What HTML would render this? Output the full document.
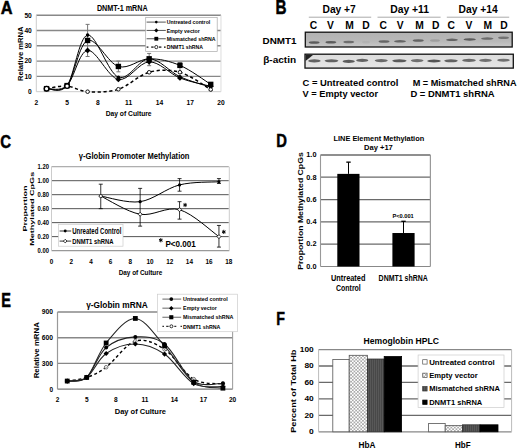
<!DOCTYPE html>
<html><head><meta charset="utf-8"><style>
html,body{margin:0;padding:0;background:#fff;}
svg{display:block;font-family:"Liberation Sans", sans-serif;}
</style></head><body>
<svg width="520" height="448" viewBox="0 0 520 448" font-family='"Liberation Sans", sans-serif'>
<rect x="0" y="0" width="520" height="448" fill="#fff"/>
<text x="0.80" y="13.50" font-size="18.12" font-weight="bold" fill="#000" textLength="11.80" lengthAdjust="spacingAndGlyphs" stroke="#000" stroke-width="0.5">A</text>
<text x="96.90" y="11.20" font-size="8.41" font-weight="bold" fill="#000" textLength="50.80" lengthAdjust="spacingAndGlyphs" >DNMT-1 mRNA</text>
<line x1="36.30" y1="76.40" x2="220.98" y2="76.40" stroke="#888" stroke-width="1.4" />
<line x1="36.30" y1="61.10" x2="220.98" y2="61.10" stroke="#888" stroke-width="1.4" />
<line x1="36.30" y1="45.80" x2="220.98" y2="45.80" stroke="#888" stroke-width="1.4" />
<line x1="36.30" y1="30.50" x2="220.98" y2="30.50" stroke="#888" stroke-width="1.4" />
<line x1="36.30" y1="15.20" x2="220.98" y2="15.20" stroke="#888" stroke-width="1.4" />
<line x1="36.30" y1="91.70" x2="220.98" y2="91.70" stroke="#ccc" stroke-width="1" />
<line x1="36.30" y1="91.70" x2="36.30" y2="15.20" stroke="#ccc" stroke-width="1" />
<line x1="220.98" y1="91.70" x2="220.98" y2="15.20" stroke="#ddd" stroke-width="1" />
<text x="31.80" y="94.00" font-size="6.67" font-weight="bold" fill="#000" text-anchor="end" >0</text>
<text x="31.80" y="78.70" font-size="6.67" font-weight="bold" fill="#000" text-anchor="end" >10</text>
<text x="31.80" y="63.40" font-size="6.67" font-weight="bold" fill="#000" text-anchor="end" >20</text>
<text x="31.80" y="48.10" font-size="6.67" font-weight="bold" fill="#000" text-anchor="end" >30</text>
<text x="31.80" y="32.80" font-size="6.67" font-weight="bold" fill="#000" text-anchor="end" >40</text>
<text x="31.80" y="17.50" font-size="6.67" font-weight="bold" fill="#000" text-anchor="end" >50</text>
<text x="36.30" y="105.40" font-size="6.67" font-weight="bold" fill="#000" text-anchor="middle" >2</text>
<text x="67.08" y="105.40" font-size="6.67" font-weight="bold" fill="#000" text-anchor="middle" >5</text>
<text x="97.86" y="105.40" font-size="6.67" font-weight="bold" fill="#000" text-anchor="middle" >8</text>
<text x="128.64" y="105.40" font-size="6.67" font-weight="bold" fill="#000" text-anchor="middle" >11</text>
<text x="159.42" y="105.40" font-size="6.67" font-weight="bold" fill="#000" text-anchor="middle" >14</text>
<text x="190.20" y="105.40" font-size="6.67" font-weight="bold" fill="#000" text-anchor="middle" >17</text>
<text x="220.98" y="105.40" font-size="6.67" font-weight="bold" fill="#000" text-anchor="middle" >20</text>
<text x="105.70" y="116.00" font-size="7.39" font-weight="bold" fill="#000" textLength="45.90" lengthAdjust="spacingAndGlyphs" >Day of Culture</text>
<text transform="translate(23.00,81.10) rotate(-90)" x="0" y="0" font-size="7.97" font-weight="bold" fill="#000" textLength="54.70" lengthAdjust="spacingAndGlyphs">Relative mRNA</text>
<line x1="87.60" y1="24.38" x2="87.60" y2="56.51" stroke="#777" stroke-width="1.0" />
<line x1="85.60" y1="24.38" x2="89.60" y2="24.38" stroke="#777" stroke-width="1.0" />
<line x1="85.60" y1="56.51" x2="89.60" y2="56.51" stroke="#777" stroke-width="1.0" />
<line x1="118.38" y1="61.10" x2="118.38" y2="71.81" stroke="#777" stroke-width="1.0" />
<line x1="116.38" y1="61.10" x2="120.38" y2="61.10" stroke="#777" stroke-width="1.0" />
<line x1="116.38" y1="71.81" x2="120.38" y2="71.81" stroke="#777" stroke-width="1.0" />
<line x1="149.16" y1="53.45" x2="149.16" y2="65.69" stroke="#777" stroke-width="1.0" />
<line x1="147.16" y1="53.45" x2="151.16" y2="53.45" stroke="#777" stroke-width="1.0" />
<line x1="147.16" y1="65.69" x2="151.16" y2="65.69" stroke="#777" stroke-width="1.0" />
<line x1="179.94" y1="62.63" x2="179.94" y2="73.34" stroke="#777" stroke-width="1.0" />
<line x1="177.94" y1="62.63" x2="181.94" y2="62.63" stroke="#777" stroke-width="1.0" />
<line x1="177.94" y1="73.34" x2="181.94" y2="73.34" stroke="#777" stroke-width="1.0" />
<line x1="210.72" y1="82.52" x2="210.72" y2="90.17" stroke="#777" stroke-width="1.0" />
<line x1="208.72" y1="82.52" x2="212.72" y2="82.52" stroke="#777" stroke-width="1.0" />
<line x1="208.72" y1="90.17" x2="212.72" y2="90.17" stroke="#777" stroke-width="1.0" />
<path d="M46.56,88.64 C49.98,88.21 60.24,85.53 67.08,86.04 C73.92,86.55 79.05,91.16 87.60,91.70 C96.15,92.24 108.12,92.49 118.38,89.25 C128.64,86.01 138.90,75.10 149.16,72.27 C159.42,69.44 169.68,69.39 179.94,72.27 C190.20,75.15 205.59,86.68 210.72,89.56" stroke="#000" stroke-width="1.5" fill="none" stroke-dasharray="3.2,2.6"/>
<path d="M46.56,88.64 C49.98,88.13 60.24,94.50 67.08,85.58 C73.92,76.66 79.05,36.49 87.60,35.09 C96.15,33.69 108.12,73.21 118.38,77.17 C128.64,81.12 138.90,58.88 149.16,58.80 C159.42,58.73 169.68,71.99 179.94,76.71 C190.20,81.42 205.59,85.38 210.72,87.11" stroke="#000" stroke-width="1.0" fill="none" />
<path d="M46.56,88.64 C49.98,88.13 60.24,91.95 67.08,85.58 C73.92,79.20 79.05,51.41 87.60,50.39 C96.15,49.37 108.12,77.55 118.38,79.46 C128.64,81.37 138.90,62.12 149.16,61.87 C159.42,61.61 169.68,73.85 179.94,77.93 C190.20,82.01 205.59,84.94 210.72,86.34" stroke="#000" stroke-width="1.0" fill="none" />
<path d="M46.56,88.64 C49.98,88.13 60.24,93.61 67.08,85.58 C73.92,77.55 79.05,43.63 87.60,40.45 C96.15,37.26 108.12,63.39 118.38,66.45 C128.64,69.52 138.90,58.98 149.16,58.80 C159.42,58.63 169.68,61.13 179.94,65.38 C190.20,69.64 205.59,81.19 210.72,84.36" stroke="#000" stroke-width="1.0" fill="none" />
<circle cx="46.56" cy="88.64" r="1.79" fill="#000"/>
<circle cx="67.08" cy="85.58" r="1.79" fill="#000"/>
<circle cx="87.60" cy="35.09" r="1.79" fill="#000"/>
<circle cx="118.38" cy="77.17" r="1.79" fill="#000"/>
<circle cx="149.16" cy="58.80" r="1.79" fill="#000"/>
<circle cx="179.94" cy="76.71" r="1.79" fill="#000"/>
<circle cx="210.72" cy="87.11" r="1.79" fill="#000"/>
<path d="M46.56,85.73 L49.47,88.64 L46.56,91.55 L43.65,88.64 Z" fill="#000"/>
<path d="M67.08,82.67 L69.99,85.58 L67.08,88.49 L64.17,85.58 Z" fill="#000"/>
<path d="M87.60,47.48 L90.51,50.39 L87.60,53.30 L84.69,50.39 Z" fill="#000"/>
<path d="M118.38,76.55 L121.29,79.46 L118.38,82.37 L115.47,79.46 Z" fill="#000"/>
<path d="M149.16,58.95 L152.07,61.87 L149.16,64.78 L146.25,61.87 Z" fill="#000"/>
<path d="M179.94,75.02 L182.85,77.93 L179.94,80.84 L177.03,77.93 Z" fill="#000"/>
<path d="M210.72,83.43 L213.63,86.34 L210.72,89.26 L207.81,86.34 Z" fill="#000"/>
<rect x="43.87" y="85.95" width="5.38" height="5.38" fill="#000"/>
<rect x="64.39" y="82.89" width="5.38" height="5.38" fill="#000"/>
<rect x="84.91" y="37.76" width="5.38" height="5.38" fill="#000"/>
<rect x="115.69" y="63.77" width="5.38" height="5.38" fill="#000"/>
<rect x="146.47" y="56.12" width="5.38" height="5.38" fill="#000"/>
<rect x="177.25" y="62.70" width="5.38" height="5.38" fill="#000"/>
<rect x="208.03" y="81.67" width="5.38" height="5.38" fill="#000"/>
<circle cx="46.56" cy="88.64" r="2.3" fill="#fff" stroke="#000" stroke-width="1.4"/>
<circle cx="67.08" cy="86.04" r="2.3" fill="#fff" stroke="#000" stroke-width="1.4"/>
<circle cx="87.60" cy="91.70" r="1.8" fill="#fff" stroke="#000" stroke-width="0.9"/>
<circle cx="118.38" cy="89.25" r="1.8" fill="#fff" stroke="#000" stroke-width="0.9"/>
<circle cx="149.16" cy="72.27" r="1.8" fill="#fff" stroke="#000" stroke-width="0.9"/>
<circle cx="179.94" cy="72.27" r="1.8" fill="#fff" stroke="#000" stroke-width="0.9"/>
<circle cx="210.72" cy="89.56" r="1.8" fill="#fff" stroke="#000" stroke-width="0.9"/>
<rect x="145.70" y="17.40" width="71.50" height="34.00" fill="#fff" stroke="#aaa" stroke-width="0.7" />
<line x1="146.60" y1="22.10" x2="165.80" y2="22.10" stroke="#555" stroke-width="1.0" />
<circle cx="156.30" cy="22.10" r="1.28" fill="#000"/>
<text x="166.70" y="24.30" font-size="6.09" font-weight="bold" fill="#000" textLength="43.60" lengthAdjust="spacingAndGlyphs" >Untreated control</text>
<line x1="146.60" y1="30.43" x2="165.80" y2="30.43" stroke="#555" stroke-width="1.0" />
<path d="M156.30,28.35 L158.38,30.43 L156.30,32.51 L154.22,30.43 Z" fill="#000"/>
<text x="166.70" y="32.63" font-size="6.09" font-weight="bold" fill="#000" textLength="33.10" lengthAdjust="spacingAndGlyphs" >Empty vector</text>
<line x1="146.60" y1="38.76" x2="165.80" y2="38.76" stroke="#555" stroke-width="1.0" />
<rect x="154.38" y="36.84" width="3.84" height="3.84" fill="#000"/>
<text x="166.70" y="40.96" font-size="6.09" font-weight="bold" fill="#000" textLength="48.90" lengthAdjust="spacingAndGlyphs" >Mismatched shRNA</text>
<line x1="146.60" y1="47.09" x2="148.40" y2="47.09" stroke="#000" stroke-width="1.2" />
<line x1="151.20" y1="47.09" x2="153.60" y2="47.09" stroke="#000" stroke-width="1.2" />
<line x1="159.00" y1="47.09" x2="161.40" y2="47.09" stroke="#000" stroke-width="1.2" />
<line x1="164.00" y1="47.09" x2="165.60" y2="47.09" stroke="#000" stroke-width="1.2" />
<circle cx="156.3" cy="47.09" r="1.6" fill="#fff" stroke="#000" stroke-width="0.8"/>
<text x="166.70" y="49.29" font-size="6.09" font-weight="bold" fill="#000" textLength="36.30" lengthAdjust="spacingAndGlyphs" >DNMT1 shRNA</text>
<text x="275.50" y="13.60" font-size="19.42" font-weight="bold" fill="#000" textLength="11.00" lengthAdjust="spacingAndGlyphs" stroke="#000" stroke-width="0.5">B</text>
<text x="322.50" y="12.90" font-size="10.00" font-weight="bold" fill="#000" textLength="33.30" lengthAdjust="spacingAndGlyphs" >Day +7</text>
<text x="390.20" y="12.90" font-size="10.00" font-weight="bold" fill="#000" textLength="38.80" lengthAdjust="spacingAndGlyphs" >Day +11</text>
<text x="458.60" y="12.90" font-size="10.00" font-weight="bold" fill="#000" textLength="39.10" lengthAdjust="spacingAndGlyphs" >Day +14</text>
<line x1="308.80" y1="17.20" x2="371.20" y2="17.20" stroke="#aaa" stroke-width="1" />
<line x1="377.50" y1="17.20" x2="440.60" y2="17.20" stroke="#aaa" stroke-width="1" />
<line x1="446.80" y1="17.20" x2="509.20" y2="17.20" stroke="#aaa" stroke-width="1" />
<text x="313.40" y="28.60" font-size="10.29" font-weight="bold" fill="#000" text-anchor="middle" >C</text>
<text x="330.40" y="28.60" font-size="10.29" font-weight="bold" fill="#000" text-anchor="middle" >V</text>
<text x="349.50" y="28.60" font-size="10.29" font-weight="bold" fill="#000" text-anchor="middle" >M</text>
<text x="366.00" y="28.60" font-size="10.29" font-weight="bold" fill="#000" text-anchor="middle" >D</text>
<text x="383.20" y="28.60" font-size="10.29" font-weight="bold" fill="#000" text-anchor="middle" >C</text>
<text x="400.20" y="28.60" font-size="10.29" font-weight="bold" fill="#000" text-anchor="middle" >V</text>
<text x="419.60" y="28.60" font-size="10.29" font-weight="bold" fill="#000" text-anchor="middle" >M</text>
<text x="435.70" y="28.60" font-size="10.29" font-weight="bold" fill="#000" text-anchor="middle" >D</text>
<text x="451.30" y="28.60" font-size="10.29" font-weight="bold" fill="#000" text-anchor="middle" >C</text>
<text x="468.90" y="28.60" font-size="10.29" font-weight="bold" fill="#000" text-anchor="middle" >V</text>
<text x="487.70" y="28.60" font-size="10.29" font-weight="bold" fill="#000" text-anchor="middle" >M</text>
<text x="503.90" y="28.60" font-size="10.29" font-weight="bold" fill="#000" text-anchor="middle" >D</text>
<text x="262.60" y="43.60" font-size="9.86" font-weight="bold" fill="#000" textLength="34.00" lengthAdjust="spacingAndGlyphs" >DNMT1</text>
<text x="263.20" y="62.60" font-size="9.71" font-weight="bold" fill="#000" textLength="32.90" lengthAdjust="spacingAndGlyphs" >&#946;-actin</text>
<defs>
<linearGradient id="gD" x1="0" y1="0" x2="0" y2="1"><stop offset="0" stop-color="#b2b2b2"/><stop offset="0.6" stop-color="#b8b8b8"/><stop offset="1" stop-color="#c8c8c8"/></linearGradient>
<linearGradient id="gB" x1="0" y1="0" x2="0" y2="1"><stop offset="0" stop-color="#dcdcdc"/><stop offset="1" stop-color="#e6e6e6"/></linearGradient>
<filter id="blur1" x="-50%" y="-50%" width="200%" height="200%"><feGaussianBlur stdDeviation="0.7"/></filter>
<filter id="blur05" x="-50%" y="-50%" width="200%" height="200%"><feGaussianBlur stdDeviation="0.45"/></filter>
</defs>
<rect x="305.30" y="32.20" width="206.90" height="14.80" fill="url(#gD)" stroke="#111" stroke-width="1.3" />
<ellipse cx="314.15" cy="42.40" rx="5.45" ry="1.25" fill="#333" opacity="0.69" filter="url(#blur05)"/>
<ellipse cx="330.85" cy="42.20" rx="5.45" ry="1.25" fill="#333" opacity="0.69" filter="url(#blur05)"/>
<ellipse cx="348.75" cy="42.00" rx="5.45" ry="1.25" fill="#333" opacity="0.56" filter="url(#blur05)"/>
<ellipse cx="366.00" cy="42.20" rx="4.00" ry="1.25" fill="#333" opacity="0.06" filter="url(#blur05)"/>
<ellipse cx="384.00" cy="41.60" rx="5.50" ry="1.25" fill="#333" opacity="0.62" filter="url(#blur05)"/>
<ellipse cx="400.00" cy="41.30" rx="6.00" ry="1.25" fill="#333" opacity="0.62" filter="url(#blur05)"/>
<ellipse cx="418.25" cy="40.40" rx="5.55" ry="1.25" fill="#333" opacity="0.62" filter="url(#blur05)"/>
<ellipse cx="435.00" cy="40.60" rx="5.00" ry="1.25" fill="#333" opacity="0.19" filter="url(#blur05)"/>
<ellipse cx="452.00" cy="39.80" rx="6.00" ry="1.25" fill="#333" opacity="0.62" filter="url(#blur05)"/>
<ellipse cx="469.70" cy="39.40" rx="6.10" ry="1.25" fill="#333" opacity="0.69" filter="url(#blur05)"/>
<ellipse cx="487.25" cy="38.60" rx="6.25" ry="1.25" fill="#333" opacity="0.56" filter="url(#blur05)"/>
<ellipse cx="503.50" cy="37.80" rx="5.50" ry="1.25" fill="#333" opacity="0.50" filter="url(#blur05)"/>
<rect x="305.00" y="54.20" width="208.30" height="13.90" fill="url(#gB)" stroke="#111" stroke-width="1.3" />
<path d="M305.6,55.0 L313,55.0 L305.6,61 Z" fill="#222" filter="url(#blur1)"/>
<ellipse cx="314.40" cy="60.90" rx="6.20" ry="1.55" fill="#333" opacity="0.72" filter="url(#blur05)"/>
<ellipse cx="331.50" cy="60.80" rx="6.90" ry="1.55" fill="#333" opacity="0.72" filter="url(#blur05)"/>
<ellipse cx="348.70" cy="61.40" rx="6.10" ry="1.55" fill="#333" opacity="0.76" filter="url(#blur05)"/>
<ellipse cx="362.25" cy="60.40" rx="6.05" ry="1.55" fill="#333" opacity="0.72" filter="url(#blur05)"/>
<ellipse cx="381.25" cy="60.60" rx="6.55" ry="1.55" fill="#333" opacity="0.68" filter="url(#blur05)"/>
<ellipse cx="399.40" cy="60.80" rx="7.20" ry="1.55" fill="#333" opacity="0.76" filter="url(#blur05)"/>
<ellipse cx="417.15" cy="60.60" rx="6.35" ry="1.55" fill="#333" opacity="0.64" filter="url(#blur05)"/>
<ellipse cx="434.00" cy="61.00" rx="6.80" ry="1.55" fill="#333" opacity="0.80" filter="url(#blur05)"/>
<ellipse cx="451.00" cy="60.80" rx="6.80" ry="1.55" fill="#333" opacity="0.72" filter="url(#blur05)"/>
<ellipse cx="469.00" cy="60.40" rx="6.80" ry="1.55" fill="#333" opacity="0.68" filter="url(#blur05)"/>
<ellipse cx="485.50" cy="60.40" rx="6.30" ry="1.55" fill="#333" opacity="0.64" filter="url(#blur05)"/>
<ellipse cx="503.50" cy="60.20" rx="6.30" ry="1.55" fill="#333" opacity="0.64" filter="url(#blur05)"/>
<text x="302.50" y="85.60" font-size="8.84" font-weight="bold" fill="#000" textLength="95.90" lengthAdjust="spacingAndGlyphs" >C = Untreated control</text>
<text x="302.50" y="96.70" font-size="8.84" font-weight="bold" fill="#000" textLength="75.50" lengthAdjust="spacingAndGlyphs" >V = Empty vector</text>
<text x="412.70" y="85.50" font-size="8.99" font-weight="bold" fill="#000" textLength="103.80" lengthAdjust="spacingAndGlyphs" >M = Mismatched shRNA</text>
<text x="410.40" y="96.60" font-size="8.99" font-weight="bold" fill="#000" textLength="84.20" lengthAdjust="spacingAndGlyphs" >D = DNMT1 shRNA</text>
<text x="0.30" y="148.20" font-size="18.70" font-weight="bold" fill="#000" textLength="10.80" lengthAdjust="spacingAndGlyphs" stroke="#000" stroke-width="0.5">C</text>
<text x="78.80" y="158.70" font-size="8.84" font-weight="bold" fill="#000" textLength="110.70" lengthAdjust="spacingAndGlyphs" >&#947;-Globin Promoter Methylation</text>
<line x1="51.50" y1="236.62" x2="228.80" y2="236.62" stroke="#555" stroke-width="1.0" />
<line x1="51.50" y1="222.64" x2="228.80" y2="222.64" stroke="#555" stroke-width="1.0" />
<line x1="51.50" y1="208.66" x2="228.80" y2="208.66" stroke="#555" stroke-width="1.0" />
<line x1="51.50" y1="194.68" x2="228.80" y2="194.68" stroke="#555" stroke-width="1.0" />
<line x1="51.50" y1="180.70" x2="228.80" y2="180.70" stroke="#555" stroke-width="1.0" />
<line x1="51.50" y1="166.72" x2="228.80" y2="166.72" stroke="#999" stroke-width="1.0" />
<line x1="51.50" y1="250.60" x2="229.30" y2="250.60" stroke="#999" stroke-width="1.1" />
<line x1="51.50" y1="250.60" x2="51.50" y2="166.72" stroke="#ccc" stroke-width="1" />
<line x1="229.30" y1="250.60" x2="229.30" y2="166.72" stroke="#ccc" stroke-width="1" />
<text x="48.90" y="252.80" font-size="6.38" font-weight="bold" fill="#000" text-anchor="end" textLength="11.40" lengthAdjust="spacingAndGlyphs">0.00</text>
<text x="48.90" y="238.82" font-size="6.38" font-weight="bold" fill="#000" text-anchor="end" textLength="11.40" lengthAdjust="spacingAndGlyphs">0.20</text>
<text x="48.90" y="224.84" font-size="6.38" font-weight="bold" fill="#000" text-anchor="end" textLength="11.40" lengthAdjust="spacingAndGlyphs">0.40</text>
<text x="48.90" y="210.86" font-size="6.38" font-weight="bold" fill="#000" text-anchor="end" textLength="11.40" lengthAdjust="spacingAndGlyphs">0.60</text>
<text x="48.90" y="196.88" font-size="6.38" font-weight="bold" fill="#000" text-anchor="end" textLength="11.40" lengthAdjust="spacingAndGlyphs">0.80</text>
<text x="48.90" y="182.90" font-size="6.38" font-weight="bold" fill="#000" text-anchor="end" textLength="11.40" lengthAdjust="spacingAndGlyphs">1.00</text>
<text x="48.90" y="168.92" font-size="6.38" font-weight="bold" fill="#000" text-anchor="end" textLength="11.40" lengthAdjust="spacingAndGlyphs">1.20</text>
<text x="51.50" y="263.80" font-size="6.38" font-weight="bold" fill="#000" text-anchor="middle" >0</text>
<text x="71.20" y="263.80" font-size="6.38" font-weight="bold" fill="#000" text-anchor="middle" >2</text>
<text x="90.90" y="263.80" font-size="6.38" font-weight="bold" fill="#000" text-anchor="middle" >4</text>
<text x="110.60" y="263.80" font-size="6.38" font-weight="bold" fill="#000" text-anchor="middle" >6</text>
<text x="130.30" y="263.80" font-size="6.38" font-weight="bold" fill="#000" text-anchor="middle" >8</text>
<text x="150.00" y="263.80" font-size="6.38" font-weight="bold" fill="#000" text-anchor="middle" >10</text>
<text x="169.70" y="263.80" font-size="6.38" font-weight="bold" fill="#000" text-anchor="middle" >12</text>
<text x="189.40" y="263.80" font-size="6.38" font-weight="bold" fill="#000" text-anchor="middle" >14</text>
<text x="209.10" y="263.80" font-size="6.38" font-weight="bold" fill="#000" text-anchor="middle" >16</text>
<text x="228.80" y="263.80" font-size="6.38" font-weight="bold" fill="#000" text-anchor="middle" >18</text>
<text x="118.70" y="274.60" font-size="7.83" font-weight="bold" fill="#000" textLength="43.60" lengthAdjust="spacingAndGlyphs" >Day of Culture</text>
<text transform="translate(27.10,231.60) rotate(-90)" x="0" y="0" font-size="6.09" font-weight="bold" fill="#000" textLength="46.10" lengthAdjust="spacingAndGlyphs">Proportion</text>
<text transform="translate(34.00,245.80) rotate(-90)" x="0" y="0" font-size="6.23" font-weight="bold" fill="#000" textLength="74.00" lengthAdjust="spacingAndGlyphs">Methylated CpGs</text>
<line x1="100.75" y1="184.19" x2="100.75" y2="208.66" stroke="#000" stroke-width="0.8" />
<line x1="98.75" y1="184.19" x2="102.75" y2="184.19" stroke="#000" stroke-width="0.8" />
<line x1="98.75" y1="208.66" x2="102.75" y2="208.66" stroke="#000" stroke-width="0.8" />
<line x1="140.15" y1="188.39" x2="140.15" y2="226.13" stroke="#000" stroke-width="0.8" />
<line x1="138.15" y1="188.39" x2="142.15" y2="188.39" stroke="#000" stroke-width="0.8" />
<line x1="138.15" y1="226.13" x2="142.15" y2="226.13" stroke="#000" stroke-width="0.8" />
<line x1="179.55" y1="178.60" x2="179.55" y2="191.19" stroke="#000" stroke-width="0.8" />
<line x1="177.55" y1="178.60" x2="181.55" y2="178.60" stroke="#000" stroke-width="0.8" />
<line x1="177.55" y1="191.19" x2="181.55" y2="191.19" stroke="#000" stroke-width="0.8" />
<line x1="179.55" y1="201.67" x2="179.55" y2="219.14" stroke="#000" stroke-width="0.8" />
<line x1="177.55" y1="201.67" x2="181.55" y2="201.67" stroke="#000" stroke-width="0.8" />
<line x1="177.55" y1="219.14" x2="181.55" y2="219.14" stroke="#000" stroke-width="0.8" />
<line x1="218.95" y1="178.60" x2="218.95" y2="183.50" stroke="#000" stroke-width="0.8" />
<line x1="216.95" y1="178.60" x2="220.95" y2="178.60" stroke="#000" stroke-width="0.8" />
<line x1="216.95" y1="183.50" x2="220.95" y2="183.50" stroke="#000" stroke-width="0.8" />
<line x1="218.95" y1="225.44" x2="218.95" y2="247.10" stroke="#000" stroke-width="0.8" />
<line x1="216.95" y1="225.44" x2="220.95" y2="225.44" stroke="#000" stroke-width="0.8" />
<line x1="216.95" y1="247.10" x2="220.95" y2="247.10" stroke="#000" stroke-width="0.8" />
<path d="M100.75,196.08 C107.32,197.01 127.02,203.53 140.15,201.67 C153.28,199.81 166.42,188.21 179.55,184.89 C192.68,181.57 212.38,182.27 218.95,181.75" stroke="#000" stroke-width="1.0" fill="none" />
<path d="M100.75,196.08 C107.32,199.11 127.02,211.98 140.15,214.25 C153.28,216.52 166.42,205.98 179.55,209.71 C192.68,213.44 212.38,232.13 218.95,236.62" stroke="#000" stroke-width="1.0" fill="none" />
<circle cx="100.75" cy="196.08" r="1.60" fill="#000"/>
<circle cx="140.15" cy="201.67" r="1.60" fill="#000"/>
<circle cx="179.55" cy="184.89" r="1.60" fill="#000"/>
<circle cx="218.95" cy="181.75" r="1.60" fill="#000"/>
<path d="M100.75,194.08 L102.75,196.08 L100.75,198.08 L98.75,196.08 Z" fill="#fff" stroke="#000" stroke-width="0.8"/>
<path d="M140.15,212.25 L142.15,214.25 L140.15,216.25 L138.15,214.25 Z" fill="#fff" stroke="#000" stroke-width="0.8"/>
<path d="M179.55,207.71 L181.55,209.71 L179.55,211.71 L177.55,209.71 Z" fill="#fff" stroke="#000" stroke-width="0.8"/>
<path d="M218.95,234.62 L220.95,236.62 L218.95,238.62 L216.95,236.62 Z" fill="#fff" stroke="#000" stroke-width="0.8"/>
<line x1="185.10" y1="202.90" x2="185.10" y2="207.10" stroke="#000" stroke-width="1.0" />
<line x1="183.28" y1="203.95" x2="186.92" y2="206.05" stroke="#000" stroke-width="1.0" />
<line x1="186.92" y1="203.95" x2="183.28" y2="206.05" stroke="#000" stroke-width="1.0" />
<line x1="223.80" y1="229.80" x2="223.80" y2="234.00" stroke="#000" stroke-width="1.0" />
<line x1="221.98" y1="230.85" x2="225.62" y2="232.95" stroke="#000" stroke-width="1.0" />
<line x1="225.62" y1="230.85" x2="221.98" y2="232.95" stroke="#000" stroke-width="1.0" />
<line x1="160.80" y1="238.10" x2="160.80" y2="242.30" stroke="#000" stroke-width="1.0" />
<line x1="158.98" y1="239.15" x2="162.62" y2="241.25" stroke="#000" stroke-width="1.0" />
<line x1="162.62" y1="239.15" x2="158.98" y2="241.25" stroke="#000" stroke-width="1.0" />
<text x="165.40" y="246.50" font-size="8.26" font-weight="bold" fill="#000" textLength="30.30" lengthAdjust="spacingAndGlyphs" >P&lt;0.001</text>
<rect x="58.40" y="224.60" width="64.60" height="21.60" fill="#fff" stroke="#ccc" stroke-width="0.7" />
<line x1="59.60" y1="231.00" x2="71.20" y2="231.00" stroke="#333" stroke-width="1.0" />
<circle cx="65.20" cy="231.00" r="1.44" fill="#000"/>
<line x1="59.60" y1="241.10" x2="71.20" y2="241.10" stroke="#333" stroke-width="1.0" />
<path d="M65.20,239.30 L67.00,241.10 L65.20,242.90 L63.40,241.10 Z" fill="#fff" stroke="#000" stroke-width="0.8"/>
<text x="72.20" y="233.80" font-size="8.26" font-weight="bold" fill="#000" textLength="49.30" lengthAdjust="spacingAndGlyphs" >Unreated Control</text>
<text x="72.20" y="243.80" font-size="7.83" font-weight="bold" fill="#000" textLength="41.30" lengthAdjust="spacingAndGlyphs" >DNMT1 shRNA</text>
<text x="276.20" y="147.40" font-size="18.99" font-weight="bold" fill="#000" textLength="10.70" lengthAdjust="spacingAndGlyphs" stroke="#000" stroke-width="0.5">D</text>
<text x="333.50" y="140.50" font-size="7.83" font-weight="bold" fill="#000" textLength="90.70" lengthAdjust="spacingAndGlyphs" >LINE Element Methylation</text>
<text x="364.00" y="149.50" font-size="7.54" font-weight="bold" fill="#000" textLength="28.80" lengthAdjust="spacingAndGlyphs" >Day +17</text>
<line x1="320.50" y1="244.18" x2="430.40" y2="244.18" stroke="#6a6a6a" stroke-width="1.25" />
<line x1="320.50" y1="221.86" x2="430.40" y2="221.86" stroke="#6a6a6a" stroke-width="1.25" />
<line x1="320.50" y1="199.54" x2="430.40" y2="199.54" stroke="#6a6a6a" stroke-width="1.25" />
<line x1="320.50" y1="177.22" x2="430.40" y2="177.22" stroke="#6a6a6a" stroke-width="1.25" />
<line x1="320.50" y1="154.90" x2="430.40" y2="154.90" stroke="#6a6a6a" stroke-width="1.5" />
<line x1="320.50" y1="266.50" x2="430.40" y2="266.50" stroke="#888" stroke-width="1.2" />
<line x1="320.50" y1="266.50" x2="320.50" y2="154.90" stroke="#999" stroke-width="1.1" />
<line x1="430.40" y1="266.50" x2="430.40" y2="154.90" stroke="#999" stroke-width="1.2" />
<text x="316.50" y="268.80" font-size="6.67" font-weight="bold" fill="#000" text-anchor="end" textLength="10.20" lengthAdjust="spacingAndGlyphs">0.0</text>
<text x="316.50" y="246.48" font-size="6.67" font-weight="bold" fill="#000" text-anchor="end" textLength="10.20" lengthAdjust="spacingAndGlyphs">0.2</text>
<text x="316.50" y="224.16" font-size="6.67" font-weight="bold" fill="#000" text-anchor="end" textLength="10.20" lengthAdjust="spacingAndGlyphs">0.4</text>
<text x="316.50" y="201.84" font-size="6.67" font-weight="bold" fill="#000" text-anchor="end" textLength="10.20" lengthAdjust="spacingAndGlyphs">0.6</text>
<text x="316.50" y="179.52" font-size="6.67" font-weight="bold" fill="#000" text-anchor="end" textLength="10.20" lengthAdjust="spacingAndGlyphs">0.8</text>
<text x="316.50" y="157.20" font-size="6.67" font-weight="bold" fill="#000" text-anchor="end" textLength="10.20" lengthAdjust="spacingAndGlyphs">1.0</text>
<rect x="337.30" y="173.87" width="22.20" height="92.63" fill="#000" stroke="none" stroke-width="1" />
<rect x="392.40" y="233.02" width="22.20" height="33.48" fill="#000" stroke="none" stroke-width="1" />
<line x1="348.50" y1="173.87" x2="348.50" y2="162.15" stroke="#000" stroke-width="1" />
<line x1="346.30" y1="162.15" x2="350.70" y2="162.15" stroke="#000" stroke-width="1.3" />
<line x1="403.50" y1="233.02" x2="403.50" y2="221.30" stroke="#000" stroke-width="1" />
<line x1="401.30" y1="221.30" x2="405.70" y2="221.30" stroke="#000" stroke-width="1.3" />
<text x="392.40" y="217.90" font-size="5.65" font-weight="bold" fill="#000" textLength="21.40" lengthAdjust="spacingAndGlyphs" >P&lt;0.001</text>
<text x="331.00" y="281.40" font-size="8.41" font-weight="bold" fill="#000" textLength="34.40" lengthAdjust="spacingAndGlyphs" >Untreated</text>
<text x="336.00" y="291.40" font-size="8.70" font-weight="bold" fill="#000" textLength="24.80" lengthAdjust="spacingAndGlyphs" >Control</text>
<text x="378.60" y="281.40" font-size="8.41" font-weight="bold" fill="#000" textLength="49.20" lengthAdjust="spacingAndGlyphs" >DNMT1 shRNA</text>
<text transform="translate(303.40,269.80) rotate(-90)" x="0" y="0" font-size="6.38" font-weight="bold" fill="#000" textLength="117.50" lengthAdjust="spacingAndGlyphs">Proportion Methylated CpGs</text>
<text x="1.20" y="306.90" font-size="19.42" font-weight="bold" fill="#000" textLength="9.70" lengthAdjust="spacingAndGlyphs" stroke="#000" stroke-width="0.5">E</text>
<text x="86.20" y="308.30" font-size="8.84" font-weight="bold" fill="#000" textLength="61.50" lengthAdjust="spacingAndGlyphs" >&#947;-Globin mRNA</text>
<line x1="57.50" y1="363.47" x2="232.64" y2="363.47" stroke="#888" stroke-width="1.3" />
<line x1="57.50" y1="337.73" x2="232.64" y2="337.73" stroke="#888" stroke-width="1.3" />
<line x1="57.50" y1="312.00" x2="232.64" y2="312.00" stroke="#888" stroke-width="1.3" />
<line x1="57.50" y1="389.20" x2="232.64" y2="389.20" stroke="#777" stroke-width="1.2" />
<line x1="57.50" y1="389.20" x2="57.50" y2="312.00" stroke="#999" stroke-width="1.2" />
<line x1="232.64" y1="389.20" x2="232.64" y2="312.00" stroke="#999" stroke-width="1.0" />
<text x="53.00" y="391.50" font-size="6.67" font-weight="bold" fill="#000" text-anchor="end" textLength="3.60" lengthAdjust="spacingAndGlyphs">0</text>
<text x="53.00" y="365.77" font-size="6.67" font-weight="bold" fill="#000" text-anchor="end" textLength="11.20" lengthAdjust="spacingAndGlyphs">300</text>
<text x="53.00" y="340.03" font-size="6.67" font-weight="bold" fill="#000" text-anchor="end" textLength="11.20" lengthAdjust="spacingAndGlyphs">600</text>
<text x="53.00" y="314.30" font-size="6.67" font-weight="bold" fill="#000" text-anchor="end" textLength="11.20" lengthAdjust="spacingAndGlyphs">900</text>
<text x="57.50" y="401.60" font-size="6.52" font-weight="bold" fill="#000" text-anchor="middle" >2</text>
<text x="86.69" y="401.60" font-size="6.52" font-weight="bold" fill="#000" text-anchor="middle" >5</text>
<text x="115.88" y="401.60" font-size="6.52" font-weight="bold" fill="#000" text-anchor="middle" >8</text>
<text x="145.07" y="401.60" font-size="6.52" font-weight="bold" fill="#000" text-anchor="middle" >11</text>
<text x="174.26" y="401.60" font-size="6.52" font-weight="bold" fill="#000" text-anchor="middle" >14</text>
<text x="203.45" y="401.60" font-size="6.52" font-weight="bold" fill="#000" text-anchor="middle" >17</text>
<text x="232.64" y="401.60" font-size="6.52" font-weight="bold" fill="#000" text-anchor="middle" >20</text>
<text x="114.80" y="413.80" font-size="7.54" font-weight="bold" fill="#000" textLength="51.20" lengthAdjust="spacingAndGlyphs" >Day of Culture</text>
<text transform="translate(39.40,378.30) rotate(-90)" x="0" y="0" font-size="7.54" font-weight="bold" fill="#000" textLength="56.10" lengthAdjust="spacingAndGlyphs">Relative mRNA</text>
<path d="M67.23,381.05 C70.47,380.45 80.20,379.75 86.69,377.45 C93.18,375.15 98.04,373.29 106.15,367.24 C114.26,361.19 125.61,344.15 135.34,341.16 C145.07,338.18 154.80,342.98 164.53,349.31 C174.26,355.65 183.99,373.40 193.72,379.16 C203.45,384.93 218.04,383.10 222.91,383.88" stroke="#000" stroke-width="1.4" fill="none" stroke-dasharray="3,2.6"/>
<path d="M67.23,381.05 C70.47,380.45 80.20,383.02 86.69,377.45 C93.18,371.87 98.04,354.36 106.15,347.60 C114.26,340.84 125.61,337.48 135.34,336.88 C145.07,336.28 154.80,336.56 164.53,344.00 C174.26,351.43 183.99,374.95 193.72,381.48 C203.45,388.01 218.04,382.91 222.91,383.20" stroke="#222" stroke-width="1.05" fill="none" />
<path d="M67.23,381.05 C70.47,380.45 80.20,382.04 86.69,377.45 C93.18,372.86 98.04,359.09 106.15,353.52 C114.26,347.94 125.61,343.91 135.34,344.00 C145.07,344.08 154.80,347.43 164.53,354.03 C174.26,360.64 183.99,378.19 193.72,383.62 C203.45,389.06 218.04,386.13 222.91,386.63" stroke="#222" stroke-width="1.05" fill="none" />
<path d="M67.23,381.05 C70.47,380.45 80.20,383.80 86.69,377.45 C93.18,371.10 98.04,352.80 106.15,342.97 C114.26,333.13 125.61,317.95 135.34,318.43 C145.07,318.92 154.80,335.23 164.53,345.88 C174.26,356.53 183.99,375.29 193.72,382.34 C203.45,389.39 218.04,387.20 222.91,388.17" stroke="#222" stroke-width="1.05" fill="none" />
<circle cx="67.23" cy="381.05" r="1.8" fill="#fff" stroke="#555" stroke-width="0.8"/>
<circle cx="67.23" cy="381.05" r="0.6" fill="#777"/>
<circle cx="86.69" cy="377.45" r="1.8" fill="#fff" stroke="#555" stroke-width="0.8"/>
<circle cx="86.69" cy="377.45" r="0.6" fill="#777"/>
<circle cx="106.15" cy="367.24" r="1.8" fill="#fff" stroke="#555" stroke-width="0.8"/>
<circle cx="106.15" cy="367.24" r="0.6" fill="#777"/>
<circle cx="135.34" cy="341.16" r="1.8" fill="#fff" stroke="#555" stroke-width="0.8"/>
<circle cx="135.34" cy="341.16" r="0.6" fill="#777"/>
<circle cx="164.53" cy="349.31" r="1.8" fill="#fff" stroke="#555" stroke-width="0.8"/>
<circle cx="164.53" cy="349.31" r="0.6" fill="#777"/>
<circle cx="193.72" cy="379.16" r="1.8" fill="#fff" stroke="#555" stroke-width="0.8"/>
<circle cx="193.72" cy="379.16" r="0.6" fill="#777"/>
<circle cx="222.91" cy="383.88" r="1.8" fill="#fff" stroke="#555" stroke-width="0.8"/>
<circle cx="222.91" cy="383.88" r="0.6" fill="#777"/>
<circle cx="67.23" cy="381.05" r="2.00" fill="#000"/>
<circle cx="86.69" cy="377.45" r="2.00" fill="#000"/>
<circle cx="106.15" cy="347.60" r="2.00" fill="#000"/>
<circle cx="135.34" cy="336.88" r="2.00" fill="#000"/>
<circle cx="164.53" cy="344.00" r="2.00" fill="#000"/>
<circle cx="193.72" cy="381.48" r="2.00" fill="#000"/>
<circle cx="222.91" cy="383.20" r="2.00" fill="#000"/>
<path d="M67.23,378.45 L69.83,381.05 L67.23,383.65 L64.63,381.05 Z" fill="#000"/>
<path d="M86.69,374.85 L89.29,377.45 L86.69,380.05 L84.09,377.45 Z" fill="#000"/>
<path d="M106.15,350.92 L108.75,353.52 L106.15,356.12 L103.55,353.52 Z" fill="#000"/>
<path d="M135.34,341.40 L137.94,344.00 L135.34,346.60 L132.74,344.00 Z" fill="#000"/>
<path d="M164.53,351.43 L167.13,354.03 L164.53,356.63 L161.93,354.03 Z" fill="#000"/>
<path d="M193.72,381.02 L196.32,383.62 L193.72,386.22 L191.12,383.62 Z" fill="#000"/>
<path d="M222.91,384.03 L225.51,386.63 L222.91,389.23 L220.31,386.63 Z" fill="#000"/>
<rect x="64.83" y="378.65" width="4.80" height="4.80" fill="#000"/>
<rect x="84.29" y="375.05" width="4.80" height="4.80" fill="#000"/>
<rect x="103.75" y="340.57" width="4.80" height="4.80" fill="#000"/>
<rect x="132.94" y="316.03" width="4.80" height="4.80" fill="#000"/>
<rect x="162.13" y="343.48" width="4.80" height="4.80" fill="#000"/>
<rect x="191.32" y="379.94" width="4.80" height="4.80" fill="#000"/>
<rect x="220.51" y="385.77" width="4.80" height="4.80" fill="#000"/>
<rect x="157.50" y="294.20" width="80.00" height="37.50" fill="#fff" stroke="#ccc" stroke-width="0.7" />
<line x1="162.40" y1="299.10" x2="181.20" y2="299.10" stroke="#666" stroke-width="1.0" />
<circle cx="171.30" cy="299.10" r="1.84" fill="#000"/>
<text x="183.10" y="301.30" font-size="5.94" font-weight="bold" fill="#000" textLength="44.60" lengthAdjust="spacingAndGlyphs" >Untreated control</text>
<line x1="162.40" y1="308.17" x2="181.20" y2="308.17" stroke="#666" stroke-width="1.0" />
<path d="M171.30,305.96 L173.51,308.17 L171.30,310.38 L169.09,308.17 Z" fill="#000"/>
<text x="183.10" y="310.37" font-size="5.94" font-weight="bold" fill="#000" textLength="33.70" lengthAdjust="spacingAndGlyphs" >Empty vector</text>
<line x1="162.40" y1="317.24" x2="181.20" y2="317.24" stroke="#666" stroke-width="1.0" />
<rect x="169.26" y="315.20" width="4.08" height="4.08" fill="#000"/>
<text x="183.10" y="319.44" font-size="5.94" font-weight="bold" fill="#000" textLength="50.40" lengthAdjust="spacingAndGlyphs" >Mismatched shRNA</text>
<line x1="162.40" y1="326.31" x2="164.00" y2="326.31" stroke="#000" stroke-width="1.0" />
<line x1="166.20" y1="326.31" x2="168.60" y2="326.31" stroke="#000" stroke-width="1.0" />
<line x1="174.30" y1="326.31" x2="176.30" y2="326.31" stroke="#000" stroke-width="1.0" />
<line x1="180.50" y1="326.31" x2="182.00" y2="326.31" stroke="#000" stroke-width="1.0" />
<circle cx="171.4" cy="326.31" r="1.5" fill="#fff" stroke="#000" stroke-width="0.8"/>
<text x="183.10" y="328.51" font-size="5.94" font-weight="bold" fill="#000" textLength="37.30" lengthAdjust="spacingAndGlyphs" >DNMT1 shRNA</text>
<text x="276.20" y="325.40" font-size="18.99" font-weight="bold" fill="#000" textLength="8.70" lengthAdjust="spacingAndGlyphs" stroke="#000" stroke-width="0.5">F</text>
<text x="363.60" y="343.60" font-size="8.70" font-weight="bold" fill="#000" textLength="75.30" lengthAdjust="spacingAndGlyphs" >Hemoglobin HPLC</text>
<line x1="318.60" y1="415.35" x2="511.60" y2="415.35" stroke="#6a6a6a" stroke-width="1.3" />
<line x1="318.60" y1="398.90" x2="511.60" y2="398.90" stroke="#6a6a6a" stroke-width="1.3" />
<line x1="318.60" y1="382.45" x2="511.60" y2="382.45" stroke="#6a6a6a" stroke-width="1.3" />
<line x1="318.60" y1="366.00" x2="511.60" y2="366.00" stroke="#6a6a6a" stroke-width="1.3" />
<line x1="318.60" y1="349.55" x2="511.60" y2="349.55" stroke="#888" stroke-width="1.3" />
<line x1="318.60" y1="431.80" x2="511.60" y2="431.80" stroke="#888" stroke-width="1.2" />
<line x1="318.60" y1="431.80" x2="318.60" y2="349.55" stroke="#bbb" stroke-width="1" />
<line x1="511.60" y1="431.80" x2="511.60" y2="349.55" stroke="#bbb" stroke-width="1" />
<text x="313.70" y="434.20" font-size="6.96" font-weight="bold" fill="#000" text-anchor="end" textLength="4.70" lengthAdjust="spacingAndGlyphs">0</text>
<text x="313.70" y="417.75" font-size="6.96" font-weight="bold" fill="#000" text-anchor="end" textLength="9.30" lengthAdjust="spacingAndGlyphs">20</text>
<text x="313.70" y="401.30" font-size="6.96" font-weight="bold" fill="#000" text-anchor="end" textLength="9.30" lengthAdjust="spacingAndGlyphs">40</text>
<text x="313.70" y="384.85" font-size="6.96" font-weight="bold" fill="#000" text-anchor="end" textLength="9.30" lengthAdjust="spacingAndGlyphs">60</text>
<text x="313.70" y="368.40" font-size="6.96" font-weight="bold" fill="#000" text-anchor="end" textLength="9.30" lengthAdjust="spacingAndGlyphs">80</text>
<text x="313.70" y="351.95" font-size="6.96" font-weight="bold" fill="#000" text-anchor="end" textLength="13.90" lengthAdjust="spacingAndGlyphs">100</text>
<defs>
<pattern id="chk" width="3.4" height="3.4" patternUnits="userSpaceOnUse"><rect width="3.4" height="3.4" fill="#fff"/><rect width="1.7" height="1.7" fill="#aaa"/><rect x="1.7" y="1.7" width="1.7" height="1.7" fill="#aaa"/></pattern>
<pattern id="vstr" width="2" height="4" patternUnits="userSpaceOnUse"><rect width="2" height="4" fill="#484848"/><rect width="1" height="4" fill="#585858"/></pattern>
</defs>
<rect x="332.80" y="359.58" width="16.40" height="72.22" fill="#fff" stroke="#555" stroke-width="0.8" />
<rect x="349.20" y="355.31" width="18.20" height="76.49" fill="url(#chk)" stroke="#555" stroke-width="0.8" />
<rect x="367.40" y="359.01" width="16.80" height="72.79" fill="url(#vstr)" stroke="#333" stroke-width="0.8" />
<rect x="384.20" y="356.54" width="17.40" height="75.26" fill="#000" stroke="#000" stroke-width="0.8" />
<rect x="428.60" y="423.57" width="16.60" height="8.23" fill="#fff" stroke="#555" stroke-width="0.8" />
<rect x="445.20" y="425.63" width="17.20" height="6.17" fill="url(#chk)" stroke="#555" stroke-width="0.8" />
<rect x="462.40" y="424.81" width="17.60" height="6.99" fill="url(#vstr)" stroke="#333" stroke-width="0.8" />
<rect x="480.00" y="424.81" width="18.00" height="6.99" fill="#000" stroke="#000" stroke-width="0.8" />
<text x="358.60" y="447.60" font-size="8.84" font-weight="bold" fill="#000" textLength="17.00" lengthAdjust="spacingAndGlyphs" >HbA</text>
<text x="455.00" y="447.60" font-size="8.84" font-weight="bold" fill="#000" textLength="15.60" lengthAdjust="spacingAndGlyphs" >HbF</text>
<text transform="translate(295.90,432.80) rotate(-90)" x="0" y="0" font-size="7.10" font-weight="bold" fill="#000" textLength="83.20" lengthAdjust="spacingAndGlyphs">Percent of Total Hb</text>
<rect x="418.10" y="355.00" width="85.90" height="52.60" fill="#fff" stroke="#ccc" stroke-width="0.7" />
<rect x="422.70" y="359.70" width="4.40" height="4.40" fill="#fff" stroke="#555" stroke-width="0.7" />
<text x="429.20" y="364.50" font-size="7.68" font-weight="bold" fill="#000" textLength="65.60" lengthAdjust="spacingAndGlyphs" >Untreated control</text>
<rect x="422.70" y="373.15" width="4.40" height="4.40" fill="url(#chk)" stroke="#555" stroke-width="0.7" />
<text x="429.20" y="377.95" font-size="7.68" font-weight="bold" fill="#000" textLength="48.50" lengthAdjust="spacingAndGlyphs" >Empty vector</text>
<rect x="422.70" y="386.60" width="4.40" height="4.40" fill="url(#vstr)" stroke="#333" stroke-width="0.7" />
<text x="429.20" y="391.40" font-size="7.68" font-weight="bold" fill="#000" textLength="70.70" lengthAdjust="spacingAndGlyphs" >Mismatched shRNA</text>
<rect x="422.70" y="400.05" width="4.40" height="4.40" fill="#000" stroke="#000" stroke-width="0.7" />
<text x="429.20" y="404.85" font-size="7.68" font-weight="bold" fill="#000" textLength="53.10" lengthAdjust="spacingAndGlyphs" >DNMT1 shRNA</text>
</svg>
</body></html>
